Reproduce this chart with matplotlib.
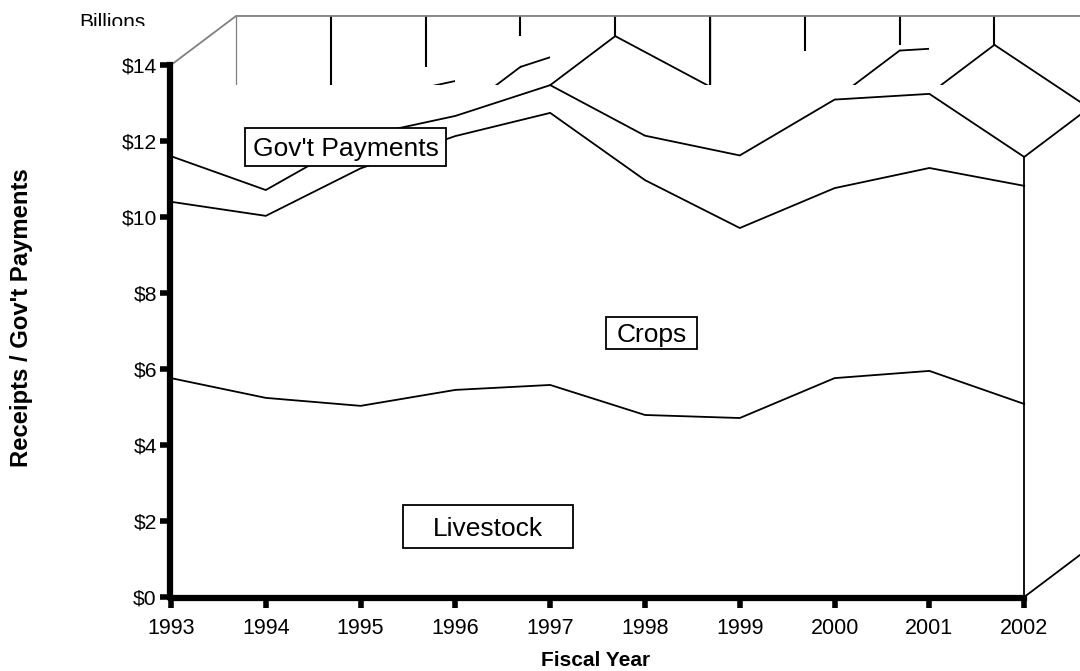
import numpy as np
import matplotlib
matplotlib.use("Agg")
import matplotlib.pyplot as plt
from matplotlib.patches import Rectangle

plt.rcParams["font.family"] = ["Liberation Sans", "DejaVu Sans"]

years = [1993, 1994, 1995, 1996, 1997, 1998, 1999, 2000, 2001, 2002]
livestock = [5.76, 5.24, 5.03, 5.45, 5.58, 4.79, 4.71, 5.76, 5.95, 5.08]
crops = [10.40, 10.03, 11.28, 12.13, 12.74, 10.97, 9.71, 10.76, 11.29, 10.82]
govt = [11.60, 10.71, 12.12, 12.66, 13.47, 12.14, 11.62, 13.09, 13.24, 11.58]
yticks = [0, 2, 4, 6, 8, 10, 12, 14]
ylabels = ["$0", "$2", "$4", "$6", "$8", "$10", "$12", "$14"]

# depth of the fake 3d box, in data units
dx = 0.686
dy = 1.29
mask_top = 13.47

W, H = 1080, 671
fig = plt.figure(figsize=(W / 100, H / 100), dpi=100)
ax = fig.add_axes([171 / W, 1 - 597 / H, 909 / W, 581 / H])
ax.set_xlim(1993, 1993 + 909 / 94.8)
ax.set_ylim(0, 581 / 38)

yrs = np.array(years, dtype=float)
top = np.array(govt)
bx = yrs + dx
by = top + dy
ymax = 14 + dy

# back wall
ax.plot([1993, 1993 + dx, bx[-1] + 5], [14, ymax, ymax], color="#808080", lw=1.3, zorder=2, clip_on=False)
ax.vlines(bx[0], mask_top, ymax, color="#808080", lw=0.9, zorder=1)
for i in range(1, 9):
    low = max(by[i], by[i + 1])
    ax.vlines(bx[i], low, ymax, color="black", lw=1.5, zorder=1)
ax.vlines(bx[5], mask_top, ymax, color="black", lw=0.9, zorder=1)

# back edge of the top series, rising parts are cut off at the next front year
for i in range(9):
    ln, = ax.plot(bx[i:i + 2], by[i:i + 2], color="black", lw=1.3, zorder=1)
    if by[i + 1] > by[i]:
        clip = Rectangle((bx[i], 0), yrs[i + 1] - bx[i], 20, transform=ax.transData)
        ln.set_clip_path(clip)

# depth edges
for i in range(9):
    ax.plot([yrs[i], bx[i]], [top[i], by[i]], color="black", lw=1.3, zorder=1)

# front face hides what is behind it
ax.fill_between([1993, 2002], 0, mask_top, color="white", lw=0, zorder=3)

ax.plot([2002, 2002 + dx], [top[-1], by[-1]], color="black", lw=1.3, zorder=4)
ax.plot([2002, 2002 + dx], [0, dy], color="black", lw=1.3, zorder=4)
ax.vlines(2002, 0, top[-1], color="black", lw=1.3, zorder=4)

ax.plot(years, livestock, color="black", lw=1.3, zorder=4)
ax.plot(years, crops, color="black", lw=1.3, zorder=4)
ax.plot(years, govt, color="black", lw=1.3, zorder=4)

for s in ["top", "right"]:
    ax.spines[s].set_visible(False)
for s in ["left", "bottom"]:
    ax.spines[s].set_linewidth(4.5)
    ax.spines[s].set_zorder(6)
    ax.spines[s].set_position(("outward", 0.7))
ax.spines["left"].set_bounds(0, 14)
ax.spines["bottom"].set_bounds(1993, 2002)
ax.set_xticks(years)
ax.set_yticks(yticks)
ax.set_yticklabels(ylabels)
ax.tick_params(axis="both", length=7.5, width=4, color="black", zorder=6)
ax.tick_params(axis="x", labelsize=15.5, pad=7)
ax.tick_params(axis="y", labelsize=15.2, pad=2)
ax.patch.set_alpha(0)


def box(x0, y0, x1, y1, label, size=19):
    fig.add_artist(Rectangle((x0 / W, 1 - y1 / H), (x1 - x0) / W, (y1 - y0) / H, transform=fig.transFigure,
                             facecolor="white", edgecolor="black", lw=1.3, zorder=7))
    fig.text((x0 + x1) / 2 / W, 1 - ((y0 + y1) / 2 + 2) / H, label, fontsize=size, ha="center", va="center", zorder=8)


box(245, 128, 446, 166, "Gov't Payments")
box(606, 317, 697, 349, "Crops")
box(403, 505, 573, 548, "Livestock")

fig.text(112 / W, 1 - 23 / H, "Billions", fontsize=15, ha="center", va="center", zorder=8)
# bottom of the word is cut in the original
fig.add_artist(Rectangle((60 / W, 1 - 40 / H), 100 / W, 14 / H, transform=fig.transFigure, facecolor="white",
                         edgecolor="none", zorder=9))

fig.text(22 / W, 1 - 318 / H, "Receipts / Gov't Payments", rotation=90, fontsize=17.2, fontweight="bold",
         ha="center", va="center")
fig.text(596 / W, 1 - 661 / H, "Fiscal Year", fontsize=15, fontweight="bold", ha="center", va="center")

fig.savefig("out.png", dpi=100)
